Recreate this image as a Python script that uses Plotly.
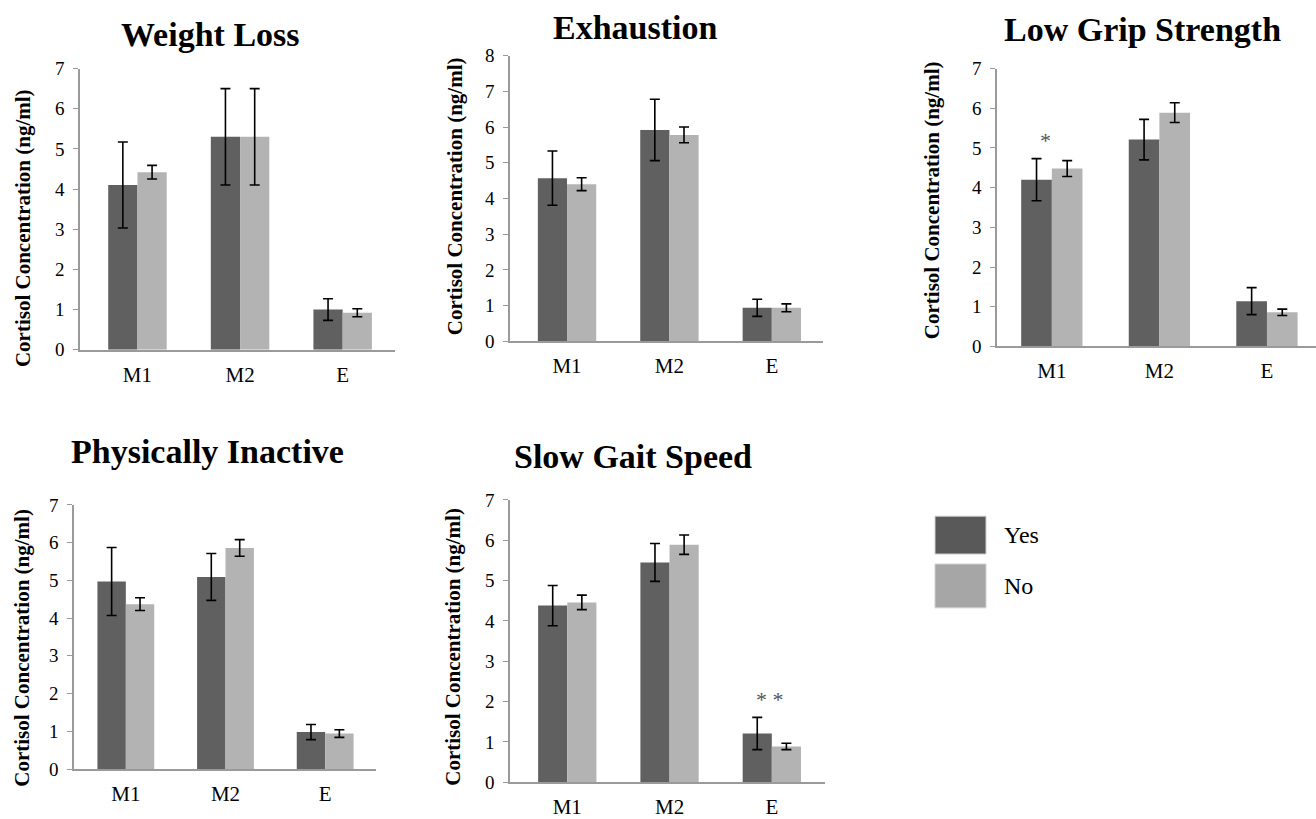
import plotly.graph_objects as go

W, H = 1316, 819

categories = ["M1", "M2", "E"]
y_ticks = [0, 1, 2, 3, 4, 5, 6, 7, 8]

panel_titles = ["Weight Loss", "Exhaustion", "Low Grip Strength", "Physically Inactive", "Slow Gait Speed"]
y_title = "Cortisol Concentration (ng/ml)"
series_names = ["Yes", "No"]

wl_yes = [4.10, 5.30, 1.00]
wl_yes_err = [1.07, 1.20, 0.27]
wl_no = [4.42, 5.30, 0.92]
wl_no_err = [0.17, 1.20, 0.10]

ex_yes = [4.57, 5.92, 0.94]
ex_yes_err = [0.76, 0.86, 0.24]
ex_no = [4.40, 5.78, 0.94]
ex_no_err = [0.18, 0.22, 0.11]

gs_yes = [4.20, 5.21, 1.14]
gs_yes_err = [0.53, 0.51, 0.34]
gs_no = [4.48, 5.89, 0.86]
gs_no_err = [0.20, 0.25, 0.08]

pi_yes = [4.97, 5.09, 0.98]
pi_yes_err = [0.90, 0.62, 0.20]
pi_no = [4.37, 5.86, 0.94]
pi_no_err = [0.17, 0.22, 0.10]

sg_yes = [4.38, 5.45, 1.21]
sg_yes_err = [0.50, 0.47, 0.40]
sg_no = [4.46, 5.89, 0.89]
sg_no_err = [0.18, 0.24, 0.08]

y_max = [7, 8, 7, 7, 7]

# significance marks: (panel index, category index, y value, text, xshift)
sig_marks = [(2, 0, 5.18, "*", -6), (4, 2, 2.06, "* *", -2)]

DARK = "#606060"
LIGHT = "#b3b3b3"
FONT = "Liberation Serif"

# pixel layout of each panel: (x_left, x_right, y_top, y_bottom, x_range)
panels_px = [
    (80, 395, 69, 351, [-0.56, 2.51]),
    (510, 823, 56, 342.7, [-0.557, 2.50]),
    (997, 1316, 69, 347.7, [-0.51, 2.456]),
    (74, 376, 506.7, 771.7, [-0.52, 2.51]),
    (510, 825, 501.7, 785, [-0.56, 2.52]),
]
title_px = [(210, 35), (635, 28), (1142, 30), (207, 453), (633, 458)]
ytitle_px = [(23, 229), (455, 197), (932, 201), (22, 650), (453, 649)]


def py(v):
    """pixel row -> paper fraction (small vertical correction for the renderer)"""
    v = 409.5 + (v - 409.5) / 0.975
    return 1 - v / H


data = [
    (wl_yes, wl_yes_err, wl_no, wl_no_err),
    (ex_yes, ex_yes_err, ex_no, ex_no_err),
    (gs_yes, gs_yes_err, gs_no, gs_no_err),
    (pi_yes, pi_yes_err, pi_no, pi_no_err),
    (sg_yes, sg_yes_err, sg_no, sg_no_err),
]

fig = go.Figure()
layout = dict(
    width=W, height=H,
    margin=dict(l=0, r=0, t=0, b=0),
    paper_bgcolor="white", plot_bgcolor="white",
    barmode="group", bargap=0.43, bargroupgap=0,
    showlegend=False,
    font=dict(family=FONT, color="black"),
)
annotations = []
shapes = []

for i, (yes, yes_err, no, no_err) in enumerate(data):
    n = "" if i == 0 else str(i + 1)
    xa, ya = "x" + n, "y" + n
    for vals, errs, color, name in [(yes, yes_err, DARK, series_names[0]), (no, no_err, LIGHT, series_names[1])]:
        fig.add_trace(go.Bar(
            x=categories, y=vals, name=name, marker=dict(color=color, line=dict(width=0)),
            error_y=dict(type="data", array=errs, color="black", thickness=1.6, width=5),
            xaxis=xa, yaxis=ya,
        ))
    xl, xr, yt, yb, xr_range = panels_px[i]
    layout["xaxis" + n] = dict(
        domain=[xl / W, xr / W], anchor=ya, type="category", range=xr_range,
        showline=True, linecolor="#9a9a9a", linewidth=1.5, ticks="", showgrid=False,
        tickfont=dict(family=FONT, size=21, color="black"), ticklabelstandoff=5, zeroline=False,
    )
    layout["yaxis" + n] = dict(
        domain=[py(yb), py(yt)], anchor=xa, range=[0, y_max[i]],
        tickvals=[t for t in y_ticks if t <= y_max[i]],
        showline=True, linecolor="#9a9a9a", linewidth=1.5, ticks="outside", ticklen=5,
        tickcolor="#9a9a9a", showgrid=False, zeroline=False,
        tickfont=dict(family=FONT, size=19, color="black"), ticklabelstandoff=5,
    )
    tx, ty = title_px[i]
    annotations.append(dict(
        text="<b>%s</b>" % panel_titles[i], x=tx / W, y=py(ty), xref="paper", yref="paper",
        showarrow=False, xanchor="center", yanchor="middle",
        font=dict(family=FONT, size=34, color="black"),
    ))
    ax, ay = ytitle_px[i]
    annotations.append(dict(
        text="<b>%s</b>" % y_title, x=ax / W, y=py(ay), xref="paper", yref="paper",
        showarrow=False, textangle=-90, xanchor="center", yanchor="middle",
        font=dict(family=FONT, size=21, color="black"),
    ))

for (pi, ci, yv, txt, xs) in sig_marks:
    n = "" if pi == 0 else str(pi + 1)
    annotations.append(dict(
        text=txt, x=ci, y=yv, xref="x" + n, yref="y" + n, showarrow=False, xshift=xs,
        font=dict(family=FONT, size=22, color="#555555"),
    ))

# legend
legend_items = [(series_names[0], "#595959", 518, 556), (series_names[1], "#a6a6a6", 566, 610)]
for name, col, y0, y1 in legend_items:
    shapes.append(dict(type="rect", xref="paper", yref="paper",
                       x0=935 / W, x1=986 / W, y0=py(y1), y1=py(y0),
                       fillcolor=col, line=dict(color="#d0d0d0", width=1)))
    annotations.append(dict(
        text=name, x=1002 / W, y=py((y0 + y1) / 2), xref="paper", yref="paper",
        showarrow=False, xanchor="left", yanchor="middle",
        font=dict(family=FONT, size=24, color="black"),
    ))

layout["annotations"] = annotations
layout["shapes"] = shapes
fig.update_layout(**layout)
fig.write_html(
    "out.html",
    config={"displayModeBar": False},
    post_script=(
        "document.body.style.margin='0';document.body.style.padding='0';"
        "document.documentElement.style.overflow='hidden';document.body.style.overflow='hidden';"
    ),
)
